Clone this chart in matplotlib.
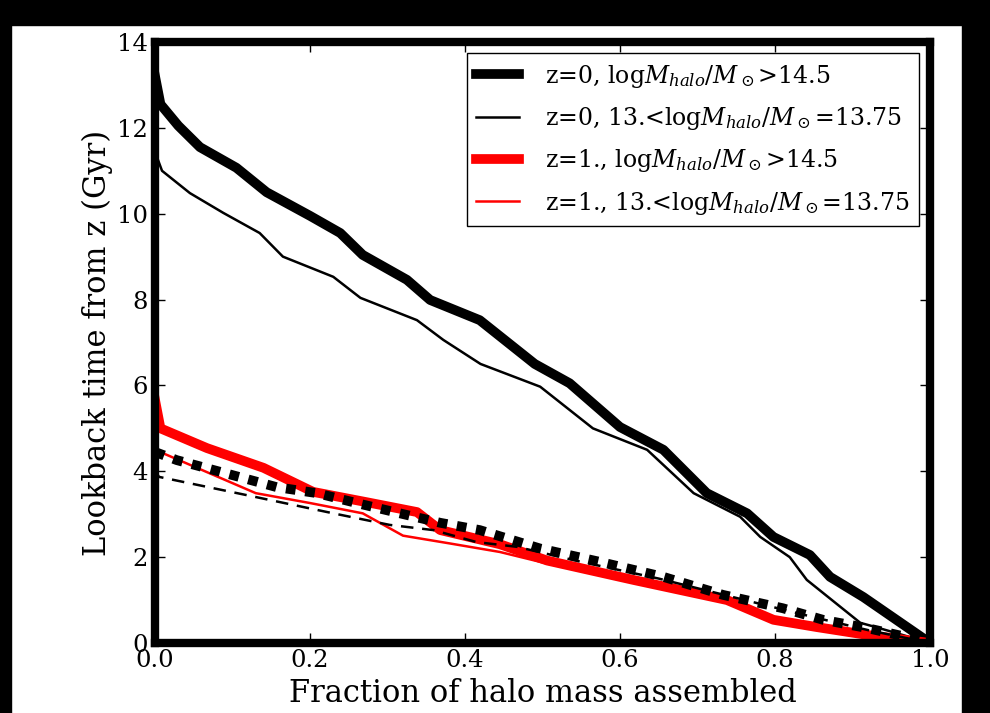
import numpy as np
import matplotlib
matplotlib.use("Agg")
import matplotlib.pyplot as plt
from matplotlib.patches import Rectangle

plt.rcParams['font.family'] = ['DejaVu Serif']
plt.rcParams['mathtext.fontset'] = 'dejavuserif'

# z=0, high mass halos (thick black)
x_z0_hi = [0.0, 0.007, 0.03, 0.058, 0.105, 0.144, 0.2, 0.239, 0.268, 0.325, 0.355, 0.419,
           0.49, 0.535, 0.6, 0.656, 0.712, 0.764, 0.798, 0.845, 0.871, 0.914, 1.0]
y_z0_hi = [13.2, 12.55, 12.05, 11.55, 11.07, 10.5, 9.95, 9.55, 9.04, 8.46, 7.99, 7.52,
           6.5, 6.05, 5.03, 4.5, 3.49, 3.02, 2.47, 2.05, 1.54, 1.07, 0.0]

# z=0, low mass halos (thin black)
x_z0_lo = [0.0, 0.009, 0.045, 0.088, 0.135, 0.165, 0.23, 0.265, 0.338, 0.372, 0.42,
           0.497, 0.565, 0.635, 0.695, 0.755, 0.781, 0.819, 0.841, 0.91, 0.93, 1.0]
y_z0_lo = [11.44, 11.0, 10.48, 10.02, 9.55, 9.0, 8.53, 8.04, 7.52, 7.06, 6.5,
           5.97, 5.0, 4.5, 3.49, 2.94, 2.47, 2.0, 1.47, 0.47, 0.37, 0.0]

# z=1, high mass halos (thick red)
x_z1_hi = [0.0, 0.007, 0.067, 0.14, 0.204, 0.273, 0.338, 0.368, 0.445, 0.506,
           0.617, 0.738, 0.798, 0.854, 0.918, 1.0]
y_z1_hi = [5.66, 5.0, 4.54, 4.08, 3.52, 3.28, 3.05, 2.63, 2.3, 1.92,
           1.47, 1.0, 0.54, 0.37, 0.19, 0.0]

# z=1, low mass halos (thin red)
x_z1_lo = [0.0, 0.067, 0.13, 0.2, 0.268, 0.32, 0.38, 0.445, 0.506,
           0.617, 0.738, 0.798, 0.854, 0.918, 1.0]
y_z1_lo = [4.5, 3.98, 3.49, 3.26, 3.02, 2.5, 2.32, 2.12, 1.85,
           1.47, 1.0, 0.54, 0.37, 0.19, 0.0]

# dotted black (thick)
x_dot = [0.0, 0.028, 0.1, 0.157, 0.209, 0.26, 0.316, 0.368, 0.419, 0.497,
         0.574, 0.656, 0.733, 0.81, 0.862, 0.918, 0.97, 1.0]
y_dot = [4.45, 4.26, 3.91, 3.63, 3.49, 3.26, 3.02, 2.8, 2.63, 2.2,
         1.89, 1.54, 1.12, 0.81, 0.54, 0.35, 0.14, 0.0]

# dashed black (thin)
x_dash = [0.0, 0.005, 0.13, 0.23, 0.303, 0.359, 0.415, 0.467, 0.55,
          0.65, 0.75, 0.85, 0.92, 1.0]
y_dash = [4.03, 3.87, 3.4, 3.02, 2.75, 2.63, 2.35, 2.24, 1.89,
          1.5, 1.05, 0.6, 0.3, 0.0]

labels = [r'z=0, log$M_{halo}/M_\odot$>14.5',
          r'z=0, 13.<log$M_{halo}/M_\odot$=13.75',
          r'z=1., log$M_{halo}/M_\odot$>14.5',
          r'z=1., 13.<log$M_{halo}/M_\odot$=13.75']

fig = plt.figure(figsize=(9.9, 7.13), dpi=100)
fig.patch.set_facecolor('white')
# black frame strips around the figure
fig.patches.append(Rectangle((0, 0.965), 1, 0.035, transform=fig.transFigure,
                             color='black', zorder=-1))
fig.patches.append(Rectangle((0, 0), 0.011, 1, transform=fig.transFigure,
                             color='black', zorder=-1))
fig.patches.append(Rectangle((0.972, 0), 0.028, 1, transform=fig.transFigure,
                             color='black', zorder=-1))

ax = fig.add_axes([0.1566, 0.0982, 0.7828, 0.8429])

ax.plot(x_z0_hi, y_z0_hi, color='black', lw=7, label=labels[0])
ax.plot(x_z0_lo, y_z0_lo, color='black', lw=1.8, label=labels[1])
ax.plot(x_z1_hi, y_z1_hi, color='red', lw=7, label=labels[2])
ax.plot(x_z1_lo, y_z1_lo, color='red', lw=1.8, label=labels[3])
ax.plot(x_dot, y_dot, color='black', lw=7, linestyle=(0, (1, 1)), dash_capstyle='butt')
ax.plot(x_dash, y_dash, color='black', lw=1.8, linestyle=(0, (5, 3.5)))

ax.set_xlim(0, 1)
ax.set_ylim(0, 14)
ax.set_xticks(np.arange(0, 1.01, 0.2))
ax.set_yticks(np.arange(0, 15, 2))

for sp in ax.spines.values():
    sp.set_linewidth(6)
ax.tick_params(direction='in', length=7, width=1, top=True, right=True,
               labelsize=17.5)
ax.tick_params(axis='y', pad=5)
ax.tick_params(axis='x', pad=4)

ax.set_xlabel('Fraction of halo mass assembled', fontsize=22, labelpad=5)
ax.set_ylabel('Lookback time from z (Gyr)', fontsize=22, labelpad=3)

leg = ax.legend(loc='upper right', fontsize=17, fancybox=False, framealpha=1,
                edgecolor='black', handlelength=1.8, handletextpad=1.1,
                borderaxespad=0.47, labelspacing=0.65)
leg.get_frame().set_linewidth(1)

fig.savefig('out.png', dpi=100)
